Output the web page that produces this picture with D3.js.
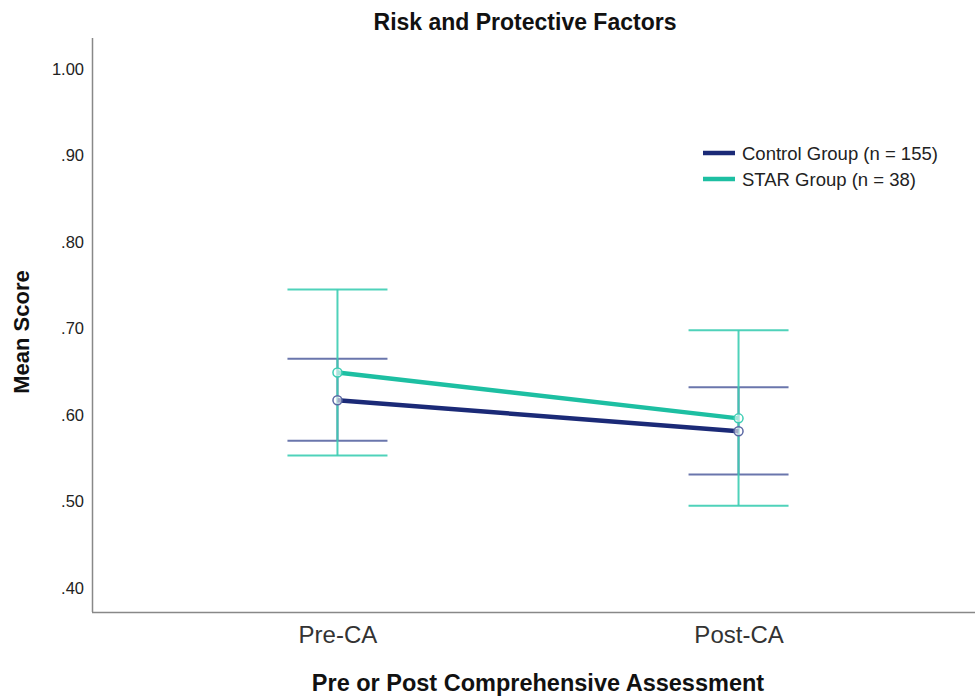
<!DOCTYPE html>
<html>
<head>
<meta charset="utf-8">
<script src="https://cdn.jsdelivr.net/npm/d3@7/dist/d3.min.js"></script>
<style>
  html, body { margin: 0; padding: 0; background: #fff; }
  svg { display: block; font-family: "Liberation Sans", Arial, sans-serif; }
</style>
</head>
<body>
<svg id="chart" width="975" height="696"></svg>
<script>
// Assessment points on the x axis
const phases = ["Pre-CA", "Post-CA"];
// Group names shown in the legend
const groups = ["Control Group (n = 155)", "STAR Group (n = 38)"];
// Mean scores per group, per phase
const controlMean = [0.617, 0.581];
const starMean = [0.649, 0.596];
// Error bar bounds per group, per phase
const controlLow = [0.570, 0.531];
const controlHigh = [0.665, 0.632];
const starLow = [0.553, 0.495];
const starHigh = [0.745, 0.698];
// Y axis tick values and labels
const yTicks = [0.4, 0.5, 0.6, 0.7, 0.8, 0.9, 1.0];
const yTickLabels = [".40", ".50", ".60", ".70", ".80", ".90", "1.00"];

const series = [
  { name: groups[0], mean: controlMean, low: controlLow, high: controlHigh,
    line: "#1b2a77", bar: "#5a67a3" },
  { name: groups[1], mean: starMean, low: starLow, high: starHigh,
    line: "#1dbfa2", bar: "#3ccdb3" }
];

const svg = d3.select("#chart");
const plotLeft = 92, plotRight = 984, plotTop = 38, plotBottom = 612;

const x = d3.scalePoint().domain(phases).range([plotLeft, plotRight]).padding(0.612);
const y = d3.scaleLinear().domain([0.372, 1.036]).range([plotBottom, plotTop]);

// Axes: plain lines, no tick marks
const yAxis = d3.axisLeft(y).tickValues(yTicks)
  .tickFormat((d, i) => yTickLabels[i]).tickSize(0).tickPadding(8);
const gy = svg.append("g").attr("transform", `translate(${plotLeft},0)`).call(yAxis);
gy.select(".domain").attr("stroke", "#888").attr("stroke-width", 1.5)
  .attr("d", `M0.5,${plotTop}V${plotBottom}`);
gy.selectAll("text").attr("font-size", 16.5).attr("fill", "#222");

const xAxis = d3.axisBottom(x).tickSize(0).tickPadding(14);
const gx = svg.append("g").attr("transform", `translate(0,${plotBottom})`).call(xAxis);
gx.select(".domain").attr("stroke", "#888").attr("stroke-width", 1.5)
  .attr("d", `M${plotLeft},0.5H975`);
gx.selectAll("text").attr("font-size", 24).attr("fill", "#333");

// Error bars
const capHalf = 50;
series.forEach(s => {
  const g = svg.append("g").attr("stroke", s.bar).attr("stroke-width", 2)
    .attr("stroke-opacity", 0.9).attr("fill", "none");
  phases.forEach((p, i) => {
    const cx = x(p);
    g.append("line").attr("x1", cx).attr("x2", cx)
      .attr("y1", y(s.low[i])).attr("y2", y(s.high[i]));
    g.append("line").attr("x1", cx - capHalf).attr("x2", cx + capHalf)
      .attr("y1", y(s.high[i])).attr("y2", y(s.high[i]));
    g.append("line").attr("x1", cx - capHalf).attr("x2", cx + capHalf)
      .attr("y1", y(s.low[i])).attr("y2", y(s.low[i]));
  });
});

// Mean lines and markers
const line = d3.line().x((d, i) => x(phases[i])).y(d => y(d));
series.forEach(s => {
  svg.append("path").datum(s.mean).attr("d", line)
    .attr("fill", "none").attr("stroke", s.line).attr("stroke-width", 4.5);
  svg.selectAll(null).data(s.mean).enter().append("circle")
    .attr("cx", (d, i) => x(phases[i])).attr("cy", d => y(d)).attr("r", 4.5)
    .attr("fill", "#fff").attr("fill-opacity", 0.6)
    .attr("stroke", s.bar).attr("stroke-width", 1.5);
});

// Legend
const legend = svg.append("g").attr("transform", "translate(703,153)");
series.forEach((s, i) => {
  const row = legend.append("g").attr("transform", `translate(0,${i * 26})`);
  row.append("line").attr("x1", 0).attr("x2", 32).attr("y1", 0).attr("y2", 0)
    .attr("stroke", s.line).attr("stroke-width", 4.5);
  row.append("text").attr("x", 39).attr("y", 1).attr("dy", "0.35em")
    .attr("font-size", 18.5).attr("fill", "#222").text(s.name);
});

// Titles
svg.append("text").attr("x", 525).attr("y", 30).attr("text-anchor", "middle")
  .attr("font-size", 23).attr("font-weight", "bold").attr("fill", "#111")
  .text("Risk and Protective Factors");
svg.append("text").attr("x", 538).attr("y", 691).attr("text-anchor", "middle")
  .attr("font-size", 23.5).attr("font-weight", "bold").attr("fill", "#111")
  .text("Pre or Post Comprehensive Assessment");
svg.append("text").attr("transform", "translate(29,332) rotate(-90)")
  .attr("text-anchor", "middle").attr("font-size", 22).attr("font-weight", "bold")
  .attr("fill", "#111").text("Mean Score");
</script>
</body>
</html>
